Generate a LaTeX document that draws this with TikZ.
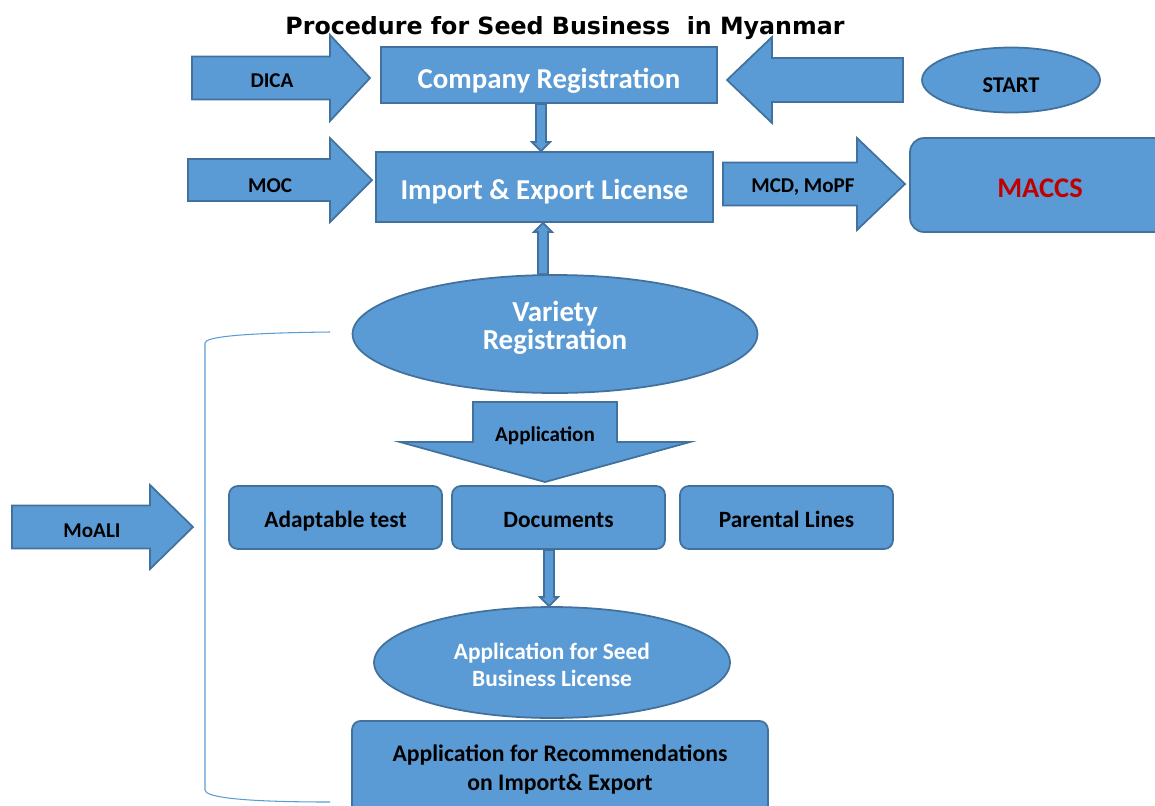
\documentclass[tikz,border=0pt]{standalone}
\usepackage{fontspec}
\setmainfont{Carlito}
\newfontfamily\titlefont{DejaVu Sans}
\usetikzlibrary{shapes.geometric,calc}

\definecolor{boxfill}{HTML}{5B9BD5}
\definecolor{boxline}{HTML}{41719C}
\definecolor{maccsred}{HTML}{C00000}

\tikzset{
  blockarr/.style={fill=boxfill,draw=boxline,line width=1pt,line join=miter},
  mainbox/.style={rectangle,fill=boxfill,draw=boxline,line width=1pt,text=white,
                  font=\bfseries\fontsize{16.4}{18}\selectfont},
  roundbox/.style={rectangle,rounded corners=5pt,fill=boxfill,draw=boxline,line width=1pt,
                   font=\bfseries\fontsize{13.3}{15}\selectfont},
  oval/.style={ellipse,fill=boxfill,draw=boxline,line width=1pt},
  arrlabel/.style={font=\bfseries\fontsize{12}{14}\selectfont}
}

% text lowered or raised inside its node, lines centred
\newcommand{\shifted}[2]{\raisebox{#1}[\height][\depth]{\begin{tabular}{@{}c@{}}#2\end{tabular}}}

% right or left block arrow: tail x, head base x, tip x, mid y, half shaft, half head
\newcommand{\blockarrow}[6]{%
  \draw[blockarr] (#1,#4-#5) -- (#2,#4-#5) -- (#2,#4-#6) -- (#3,#4)
    -- (#2,#4+#6) -- (#2,#4+#5) -- (#1,#4+#5) -- cycle;}

% slim vertical arrow between two nodes: from, to, head offset
\newcommand{\slimarrow}[3]{%
  \path[blockarr] let \p1=(#1), \p2=(#2) in
    ({\x1-2.8pt},\y1) -- ({\x1+2.8pt},\y1) -- ({\x1+2.8pt},{\y2+(#3)}) -- ({\x1+5.2pt},{\y2+(#3)})
    -- (\x1,\y2) -- ({\x1-5.2pt},{\y2+(#3)}) -- ({\x1-2.8pt},{\y2+(#3)}) -- cycle;}

\begin{document}
\begin{tikzpicture}[x=0.02cm,y=-0.02cm]
  \useasboundingbox (0,0) rectangle (1155,805);

  \node[font=\titlefont\bfseries\fontsize{13.5}{15}\selectfont] (title) at (565,28)
    {Procedure for Seed Business\ \ in Myanmar};

  % main boxes
  \node[mainbox,minimum width=6.72cm,minimum height=1.12cm] (comp) at (549,75)
    {\shifted{-4pt}{Company Registration}};
  \node[mainbox,minimum width=6.74cm,minimum height=1.4cm] (imp) at (544.5,187)
    {\shifted{-3.4pt}{Import \& Export License}};
  \node[oval,minimum width=3.56cm,minimum height=1.3cm,font=\bfseries\fontsize{12.8}{14}\selectfont]
    (start) at (1011,80) {\shifted{-4.5pt}{START}};
  \node[roundbox,rounded corners=8pt,minimum width=5.2cm,minimum height=1.88cm,text=maccsred,
        font=\bfseries\fontsize{16.2}{18}\selectfont] (maccs) at (1040,185) {\shifted{-3.4pt}{MACCS}};
  \node[oval,minimum width=8.1cm,minimum height=2.36cm,text=white,
        font=\bfseries\fontsize{16.5}{15.9}\selectfont] (variety) at (555,334)
    {\shifted{2.6pt}{Variety\\Registration}};

  % second level
  \node[roundbox,minimum width=4.26cm,minimum height=1.26cm] (adapt) at (335.5,517.5)
    {\shifted{-2.8pt}{Adaptable test}};
  \node[roundbox,minimum width=4.26cm,minimum height=1.26cm] (docs) at (558.5,517.5)
    {\shifted{-2.8pt}{Documents}};
  \node[roundbox,minimum width=4.26cm,minimum height=1.26cm] (parent) at (786.5,517.5)
    {\shifted{-2.8pt}{Parental Lines}};
  \node[oval,minimum width=7.12cm,minimum height=2.22cm,text=white,
        font=\bfseries\fontsize{13.3}{15.9}\selectfont] (seedlic) at (552,662.5)
    {\shifted{-2.8pt}{Application for Seed\\Business License}};
  \node[roundbox,minimum width=8.32cm,minimum height=1.9cm,anchor=north,
        font=\bfseries\fontsize{13.5}{16.4}\selectfont] (recom) at (560,720)
    {\shifted{-1pt}{Application for Recommendations\\on Import\& Export}};

  % block arrows
  \blockarrow{192}{330}{370}{78}{21.5}{43}
  \blockarrow{188}{330}{372}{180}{21}{42}
  \blockarrow{903}{772}{727}{80}{22}{43}
  \blockarrow{723}{857}{905}{184}{21.5}{46}
  \blockarrow{12}{150}{193}{527}{21.5}{42}
  \draw[blockarr] (473,402) -- (617,402) -- (617,442) -- (690,442) -- (545,482)
    -- (400,442) -- (473,442) -- cycle;

  \node[arrlabel] (dica) at (272,81) {DICA};
  \node[arrlabel] (moc) at (270,186) {MOC};
  \node[arrlabel] (mcd) at (803,187) {MCD, MoPF};
  \node[arrlabel] (moali) at (92,531) {MoALI};
  \node[arrlabel] (appl) at (545,436) {Application};

  % slim arrows
  \slimarrow{$(comp.south)+(-8,0)$}{imp.north}{5.2pt}
  \slimarrow{$(variety.north)+(-12,0)$}{imp.south}{-5.2pt}
  \slimarrow{$(docs.south)+(-9.5,0)$}{seedlic.north}{5.2pt}

  % bracket
  \draw[boxfill,line width=0.6pt] (330,332) .. controls (240,333) and (205,337) .. (205,343)
    -- (205,790) .. controls (205,797) and (240,802) .. (330,802);
\end{tikzpicture}
\end{document}
